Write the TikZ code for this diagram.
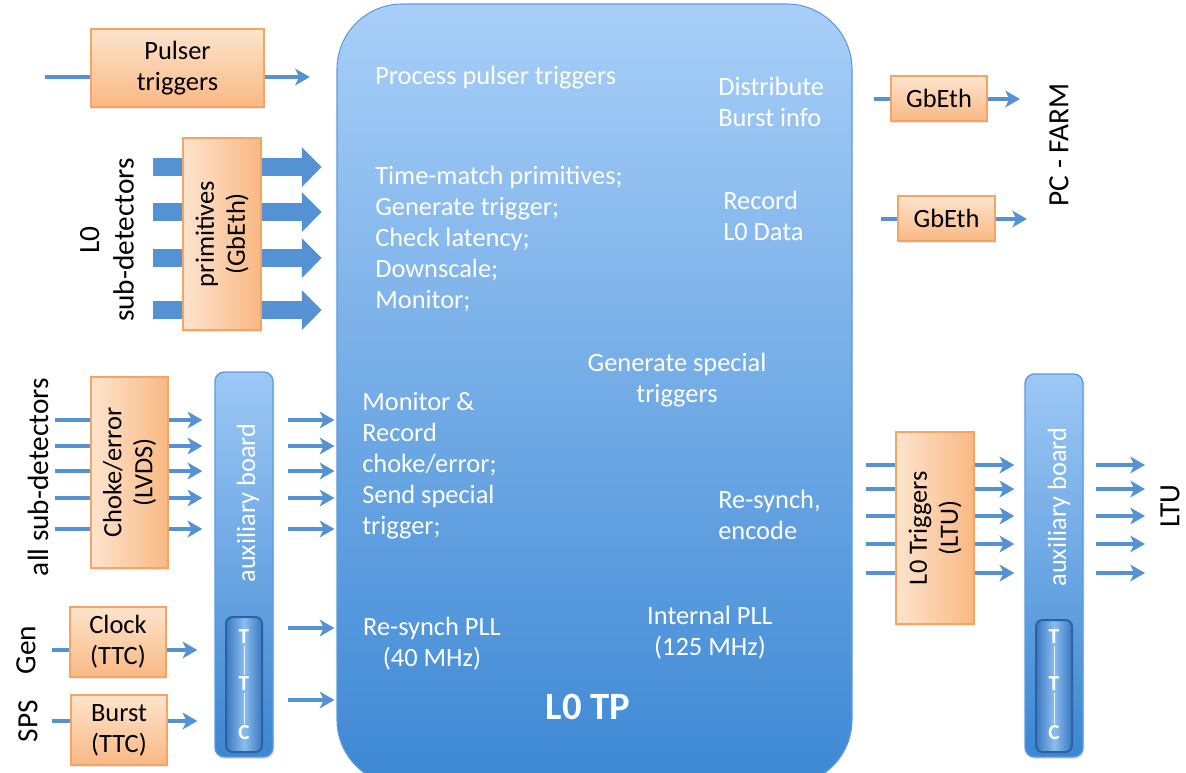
\documentclass[tikz,border=0pt]{standalone}
\usepackage{fontspec}
\setmainfont{Carlito}
\usetikzlibrary{arrows.meta, positioning, shadows, backgrounds}
\definecolor{TPtop}{HTML}{A8CFF8}
\definecolor{TPbot}{HTML}{3D88D4}
\definecolor{AUXtop}{HTML}{9DC8F5}
\definecolor{AUXbot}{HTML}{3B86D2}
\definecolor{AUXedge}{HTML}{5C9BDF}
\definecolor{TTCdark}{HTML}{3A78BE}
\definecolor{TTClight}{HTML}{8BBDF0}
\definecolor{TTCedge}{HTML}{2C62A3}
\definecolor{ORtop}{HTML}{FDE4CD}
\definecolor{ORbot}{HTML}{F9B883}
\definecolor{ORedge}{HTML}{F5A462}
\definecolor{ARRblue}{HTML}{5592D3}
\newcommand{\pxu}{0.75pt}
\tikzset{
   txt/.style={font=\fontsize{19.8}{23.25}\selectfont},
   wtxt/.style={txt, text=white, inner sep=0pt},
   btxt/.style={font=\fontsize{22}{26}\selectfont, rotate=90, align=center, inner sep=0pt},
   obox/.style={draw=ORedge, line width=1.2pt, top color=ORtop, bottom color=ORbot,
      txt, align=center, inner sep=0pt,
      drop shadow={opacity=0.2, shadow xshift=1pt, shadow yshift=-1.5pt}},
   vobox/.style={obox, rotate=90, left color=ORtop, right color=ORbot},
   tpbox/.style={draw=AUXedge, line width=0.8pt, top color=TPtop, bottom color=TPbot,
      rounded corners=49pt, inner sep=0pt},
   auxbox/.style={draw=AUXedge, line width=1pt, top color=AUXtop, bottom color=AUXbot,
      rounded corners=7pt, inner sep=0pt,
      drop shadow={opacity=0.2, shadow xshift=1pt, shadow yshift=-1.5pt}},
   ttcbox/.style={draw=TTCedge, line width=1.5pt, left color=TTCdark, right color=TTCdark,
      middle color=TTClight, rounded corners=5pt, inner sep=0pt},
   ttcletter/.style={text=white, font=\bfseries\fontsize{16}{18}\selectfont, inner sep=1pt},
   arr/.style={ARRblue, line width=2.3pt, -{Stealth[length=11pt, width=12.5pt, inset=3pt]}},
   wire/.style={ARRblue, line width=2.3pt},
   blockarr/.style={ARRblue, line width=13.5pt, -{Triangle[length=15pt, width=29pt]}}
}

\begin{document}
\begin{tikzpicture}[x=0.75pt, y=-0.75pt]
   \useasboundingbox (0,0) rectangle (1186,772);
   % main trigger processor
   \node[tpbox, minimum width=515*\pxu, minimum height=781*\pxu] (tp) at (594.5,394.5) {};
   \node[wtxt, anchor=west] (pulsetxt) at (375,78) {Process pulser triggers};
   \node[wtxt, anchor=west, align=left] (disttxt) at (718,102) {Distribute\\Burst info};
   \node[wtxt, anchor=west, align=left] (matchtxt) at (375,239) {Time-match primitives;\\Generate trigger;\\Check latency;\\Downscale;\\Monitor;};
   \node[wtxt, anchor=west, align=left] (rectxt) at (723,216) {Record\\L0 Data};
   \node[wtxt, align=center] (spectxt) at (677,380) {Generate special\\triggers};
   \node[wtxt, anchor=west, align=left] (montxt) at (362,466) {Monitor \&\\Record\\choke/error;\\Send special\\trigger;};
   \node[wtxt, anchor=west, align=left] (resynctxt) at (718,515) {Re-synch,\\encode};
   \node[wtxt, align=center] (plltxt) at (432,644) {Re-synch PLL\\(40 MHz)};
   \node[wtxt, align=center] (intplltxt) at (710,633) {Internal PLL\\(125 MHz)};
   \node[wtxt, font=\bfseries\fontsize{29}{32}\selectfont] (tplabel) at (588,707) {L0 TP};

   % input side
   \node[obox, minimum width=173*\pxu, minimum height=78*\pxu] (pulser) at (177.5,68) {Pulser\\triggers};
   \node[vobox, minimum width=192*\pxu, minimum height=78*\pxu] (prim) at (222,234) {primitives\\(GbEth)};
   \node[vobox, minimum width=191*\pxu, minimum height=77*\pxu] (choke) at (129.5,472.5) {Choke/error\\(LVDS)};
   \node[obox, minimum width=96*\pxu, minimum height=70*\pxu] (clock) at (118,642) {Clock\\(TTC)};
   \node[obox, minimum width=96*\pxu, minimum height=70*\pxu] (burst) at (119,730) {Burst\\(TTC)};
   \node[btxt] (l0sub) at (107,240) {L0\\sub-detectors};
   \node[btxt] (allsub) at (38,477) {all sub-detectors};
   \node[btxt] (gen) at (26,650) {Gen};
   \node[btxt] (sps) at (28,721) {SPS};

   % auxiliary boards
   \node[auxbox, minimum width=58*\pxu, minimum height=385*\pxu] (auxL) at (244,564.5) {};
   \node[wtxt, rotate=90] (auxLtxt) at (248,503) {auxiliary board};
   \node[ttcbox, minimum width=36*\pxu, minimum height=135*\pxu] (ttcL) at (244,684.5) {};
   \node[auxbox, minimum width=58*\pxu, minimum height=383*\pxu] (auxR) at (1054,565.5) {};
   \node[wtxt, rotate=90] (auxRtxt) at (1059,507) {auxiliary board};
   \node[ttcbox, minimum width=36*\pxu, minimum height=132*\pxu] (ttcR) at (1054,686) {};
   \foreach \s/\x in {L/244, R/1054} {
      \node[ttcletter] (ttc\s a) at (\x,637) {T};
      \node[ttcletter] (ttc\s b) at (\x,684) {T};
      \node[ttcletter] (ttc\s c) at (\x,733) {C};
      \draw[white!80!TTClight, line width=0.5pt] (ttc\s a) -- (ttc\s b) (ttc\s b) -- (ttc\s c);
   }

   % output side
   \node[obox, minimum width=96*\pxu, minimum height=45*\pxu] (gbA) at (939,98.5) {GbEth};
   \node[obox, minimum width=97*\pxu, minimum height=45*\pxu] (gbB) at (946.5,218.5) {GbEth};
   \node[vobox, minimum width=192*\pxu, minimum height=78*\pxu] (ltutrig) at (935,528) {L0 Triggers\\(LTU)};
   \node[btxt] (farm) at (1059,145) {PC - FARM};
   \node[btxt] (ltu) at (1170,506) {LTU};

   % free ends
   \coordinate (pulsein) at (45,77);
   \coordinate (primin) at (153,0);
   \coordinate (chokein) at (55,0);
   \coordinate (clockin) at (52,650);
   \coordinate (burstin) at (52,721);
   \coordinate (farmA) at (1020,99);
   \coordinate (farmB) at (1027,219);
   \coordinate (ltuend) at (1145,0);

   \begin{scope}[on background layer]
      \foreach \y in {167,212,258,310}
         \draw[blockarr, shorten >=11pt] (primin |- 0,\y) -- (tp.west |- 0,\y);
      \foreach \y in {420,446,471,498,529}
         \draw[arr, shorten >=9pt] (chokein |- 0,\y) -- (auxL.west |- 0,\y);
      \foreach \y in {465,489,516,544,573}
         \draw[arr, shorten <=9.75pt, shorten >=7.5pt] (tp.east |- 0,\y) -- (auxR.west |- 0,\y);
   \end{scope}

   % connectors
   \draw[wire] (pulsein) -- (pulsein -| pulser.west);
   \draw[arr, shorten >=20pt] (pulsein -| pulser.east) -- (pulsein -| tp.west);
   \draw[wire] (clockin) -- (clockin -| clock.west);
   \draw[arr, shorten >=12.75pt] (clockin -| clock.east) -- (clockin -| auxL.west);
   \draw[wire] (burstin) -- (burstin -| burst.west);
   \draw[arr, shorten >=12.75pt] (burstin -| burst.east) -- (burstin -| auxL.west);
   \foreach \y in {420,446,471,498,529,628,700}
      \draw[arr, shorten <=10.5pt, shorten >=1.5pt] (auxL.east |- 0,\y) -- (tp.west |- 0,\y);
   \foreach \y in {465,489,516,544,573}
      \draw[arr, shorten <=9pt] (auxR.east |- 0,\y) -- (ltuend |- 0,\y);
   \draw[wire, shorten <=15.75pt] (tp.east |- farmA) -- (farmA -| gbA.west);
   \draw[arr] (farmA -| gbA.east) -- (farmA);
   \draw[wire, shorten <=21pt] (tp.east |- farmB) -- (farmB -| gbB.west);
   \draw[arr] (farmB -| gbB.east) -- (farmB);
\end{tikzpicture}
\end{document}
